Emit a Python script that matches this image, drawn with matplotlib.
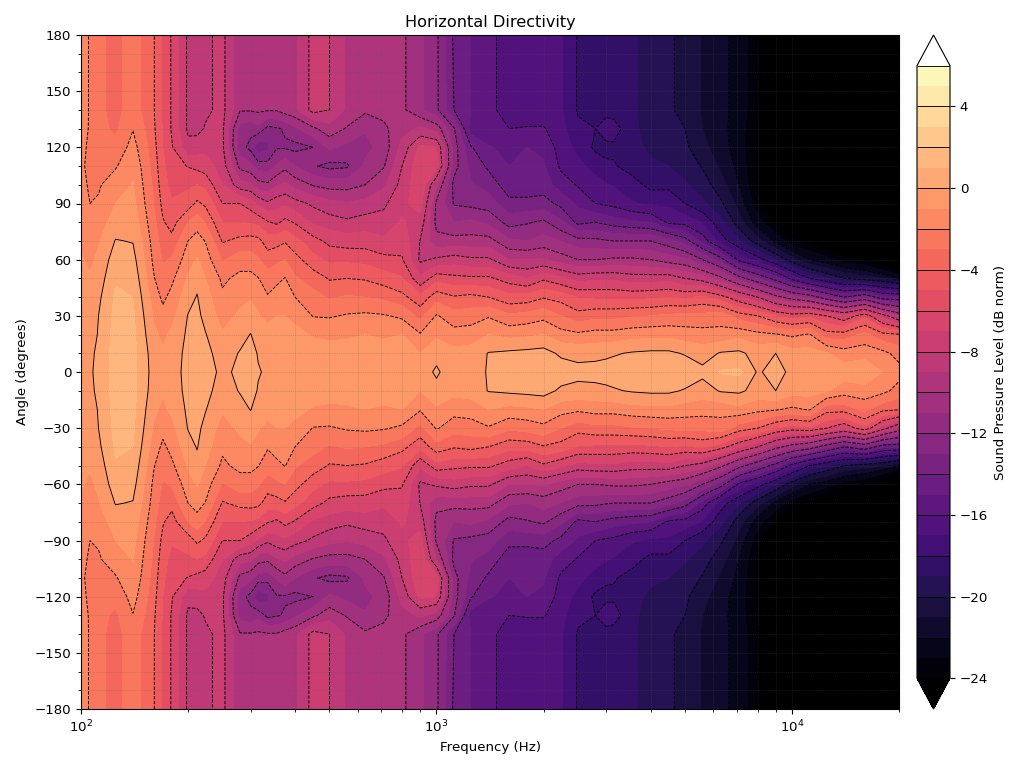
import matplotlib
matplotlib.use("Agg")
import matplotlib.pyplot as plt
from matplotlib.ticker import MultipleLocator
import numpy as np

plt.rcParams["font.size"] = 9.6

# frequencies (Hz) and angles (deg) of the measurement grid, one half only
freqs = [100, 106, 112, 125, 140, 160, 170, 180, 200, 212, 224, 250, 280, 300, 315, 335, 355, 375,
         400, 450, 500, 560, 630, 710, 800, 900, 1000, 1120, 1250, 1400, 1600, 1800, 2000, 2240,
         2500, 2800, 3000, 3150, 3550, 4000, 4500, 5000, 5600, 6300, 7100, 8000, 9000, 10000,
         11200, 12500, 14000, 16000, 18000, 20000]
angles = [0, 10, 20, 30, 40, 50, 60, 70, 80, 90, 100, 110, 120, 130, 140, 180]

# normalised SPL in dB, one row per frequency, one value per angle
spl = [
    [-0.3, -0.3, -0.4, -0.5, -0.6, -0.7, -0.9, -1.1, -1.3, -1.5, -1.8, -1.9, -1.8, -1.6, -1.5, -1.5],
    [-0.1, -0.1, -0.3, -0.4, -0.6, -0.9, -1.2, -1.5, -1.8, -2.0, -2.1, -2.15, -2.15, -2.1, -2.1, -2.1],
    [0.2, 0.1, 0.05, 0.0, -0.2, -0.5, -0.8, -1.1, -1.5, -1.9, -2.1, -2.3, -2.5, -2.7, -2.8, -2.8],
    [1.5, 1.5, 1.4, 1.3, 1.15, 0.9, 0.55, 0.05, -0.5, -1.0, -1.5, -2.1, -2.7, -3.2, -3.3, -3.3],
    [1.3, 1.3, 1.25, 1.15, 1.0, 0.7, 0.35, -0.05, -0.4, -0.7, -0.95, -1.2, -1.6, -2.05, -2.5, -2.5],
    [-0.4, -0.5, -0.8, -1.1, -1.5, -1.9, -2.2, -2.4, -2.7, -3.0, -3.2, -3.4, -3.6, -3.8, -3.9, -3.9],
    [-0.8, -0.9, -1.2, -1.7, -2.2, -2.7, -3.1, -3.5, -3.9, -4.3, -4.6, -4.8, -5.0, -5.1, -5.2, -5.2],
    [-0.5, -0.6, -0.8, -1.3, -1.7, -2.2, -2.9, -3.7, -4.4, -4.9, -5.3, -5.6, -5.9, -6.1, -6.1, -6.1],
    [0.4, 0.35, 0.2, 0.05, -0.4, -0.9, -1.4, -2.0, -3.0, -4.5, -5.2, -6.05, -7.7, -8.2, -8.2, -8.2],
    [0.6, 0.55, 0.4, 0.25, 0.06, -0.3, -0.9, -1.6, -2.4, -3.8, -5.0, -6.3, -7.5, -8.3, -8.4, -8.4],
    [0.35, 0.25, 0.05, -0.3, -0.6, -1.0, -1.5, -2.05, -3.1, -4.2, -5.3, -6.5, -7.3, -7.9, -8.2, -8.2],
    [-0.2, -0.4, -0.9, -1.4, -1.8, -2.2, -3.1, -4.1, -5.0, -6.0, -7.0, -7.5, -7.8, -7.8, -7.7, -7.7],
    [0.2, 0.06, -0.3, -0.8, -1.3, -1.7, -2.5, -3.7, -5.0, -6.0, -8.6, -10.3, -11.6, -11.4, -9.9, -9.9],
    [0.35, 0.25, 0.03, -0.5, -1.1, -1.7, -2.5, -3.6, -5.1, -6.5, -8.8, -10.7, -12.3, -11.7, -9.9, -9.9],
    [0.05, -0.05, -0.4, -0.9, -1.4, -1.95, -2.9, -3.7, -5.3, -7.2, -9.6, -11.4, -13.9, -11.3, -9.8, -9.8],
    [-0.1, -0.2, -0.6, -1.3, -1.9, -2.6, -3.5, -4.5, -5.9, -7.8, -9.8, -11.6, -13.2, -12.3, -9.9, -9.9],
    [-0.1, -0.2, -0.5, -1.0, -1.5, -2.3, -3.2, -4.4, -6.2, -7.4, -9.1, -10.9, -12.1, -12.1, -9.9, -9.9],
    [-0.1, -0.2, -0.5, -1.0, -1.5, -1.95, -3.0, -4.1, -5.7, -7.2, -8.8, -10.3, -12.1, -11.9, -9.5, -9.5],
    [-0.2, -0.3, -0.7, -1.3, -2.0, -2.9, -3.6, -4.7, -6.1, -7.6, -9.4, -11.0, -12.3, -11.2, -9.2, -9.2],
    [-0.3, -0.5, -1.1, -2.05, -2.7, -3.4, -4.7, -5.6, -7.2, -8.2, -10.1, -11.9, -12.0, -10.2, -7.6, -7.6],
    [-0.5, -0.6, -1.2, -2.1, -3.1, -4.1, -5.2, -6.3, -7.5, -8.7, -10.4, -12.3, -10.8, -9.4, -8.0, -8.0],
    [-0.6, -0.7, -1.1, -1.9, -2.9, -4.0, -5.2, -6.5, -7.8, -8.9, -10.4, -12.15, -11.3, -10.1, -9.2, -9.2],
    [-0.7, -0.8, -1.0, -1.8, -3.0, -4.1, -5.3, -6.5, -7.5, -8.7, -10.0, -10.8, -11.3, -10.9, -9.8, -9.8],
    [-0.6, -0.7, -1.1, -1.9, -3.2, -4.5, -5.7, -6.8, -7.6, -8.2, -9.2, -10.1, -10.6, -10.2, -9.7, -9.7],
    [-0.4, -0.6, -1.0, -2.2, -3.7, -4.9, -5.9, -6.4, -6.9, -7.2, -7.6, -8.0, -8.6, -9.4, -9.8, -9.8],
    [-0.3, -1.0, -1.9, -3.3, -4.7, -6.8, -8.2, -8.05, -7.4, -6.6, -6.3, -6.2, -6.8, -8.8, -10.8, -10.8],
    [0.1, -0.2, -1.2, -1.9, -3.4, -5.4, -7.8, -9.7, -10.3, -10.2, -9.0, -6.5, -7.0, -9.4, -11.8, -11.8],
    [-0.4, -0.7, -1.6, -2.6, -3.9, -5.7, -7.5, -9.6, -11.0, -12.1, -12.3, -11.6, -11.5, -11.9, -14.0, -14.2],
    [-0.5, -0.6, -1.5, -2.5, -3.7, -5.8, -7.8, -9.6, -10.8, -12.3, -12.9, -13.3, -13.9, -15.5, -15.0, -15.0],
    [0.1, 0.05, -1.0, -2.1, -4.0, -5.8, -7.8, -9.6, -11.2, -12.5, -13.4, -14.2, -14.9, -15.9, -15.7, -15.7],
    [0.6, 0.2, -1.3, -2.8, -4.7, -6.5, -9.0, -10.8, -12.4, -13.7, -14.6, -15.0, -15.3, -16.0, -16.5, -16.5],
    [0.7, 0.3, -1.2, -2.6, -4.6, -7.0, -9.0, -11.0, -12.1, -13.7, -14.6, -14.9, -15.0, -15.9, -16.8, -16.8],
    [0.7, 0.4, -1.0, -2.3, -4.1, -6.2, -8.9, -10.6, -11.8, -13.6, -14.5, -14.9, -15.2, -15.9, -16.7, -16.7],
    [0.6, -0.2, -1.6, -3.0, -4.4, -6.8, -9.5, -11.0, -12.8, -14.3, -15.5, -16.2, -16.5, -16.7, -16.9, -16.9],
    [0.3, -0.3, -1.8, -3.6, -5.1, -7.4, -10.0, -11.6, -14.3, -15.2, -16.1, -16.7, -17.3, -17.8, -18.1, -18.1],
    [0.4, -0.3, -1.6, -3.3, -5.2, -7.2, -10.0, -11.7, -14.0, -16.0, -16.6, -17.4, -18.2, -18.0, -18.4, -18.4],
    [0.45, -0.2, -1.6, -3.3, -5.2, -7.2, -9.9, -11.9, -14.3, -16.2, -16.9, -17.8, -18.3, -17.4, -18.4, -18.4],
    [0.5, -0.1, -1.6, -3.3, -5.2, -7.2, -9.8, -12.0, -14.5, -16.3, -17.1, -17.9, -18.2, -17.5, -18.5, -18.5],
    [0.9, 0.1, -1.4, -3.1, -5.3, -7.5, -9.8, -12.0, -14.8, -16.9, -17.6, -18.4, -18.7, -18.8, -18.8, -18.8],
    [1.0, 0.2, -1.3, -3.0, -5.2, -7.5, -10.0, -12.0, -15.0, -17.2, -18.3, -18.8, -19.2, -19.4, -19.5, -19.5],
    [1.0, 0.2, -1.3, -2.8, -5.0, -7.4, -10.5, -12.6, -16.2, -17.2, -18.3, -19.0, -19.4, -19.6, -19.8, -19.8],
    [0.8, -0.1, -1.5, -2.7, -5.2, -8.0, -10.8, -13.5, -16.4, -18.0, -18.9, -19.4, -19.8, -20.0, -20.4, -20.4],
    [0.3, -0.5, -1.6, -2.7, -4.8, -8.5, -12.0, -15.4, -17.1, -18.8, -19.5, -20.1, -20.7, -21.0, -21.1, -21.1],
    [1.1, 0.1, -1.7, -2.4, -5.6, -9.7, -13.5, -17.5, -18.7, -19.8, -20.6, -21.2, -21.6, -21.7, -21.7, -21.7],
    [1.2, 0.2, -1.3, -3.5, -6.8, -11.5, -16.3, -18.9, -20.6, -21.4, -22.0, -22.3, -22.5, -22.5, -22.4, -22.4],
    [-0.1, -0.4, -1.7, -4.0, -8.0, -13.0, -17.5, -20.6, -22.5, -23.6, -24.1, -24.2, -24.2, -24.1, -23.8, -23.8],
    [0.3, 0.0, -1.9, -5.0, -9.6, -14.5, -19.0, -22.3, -24.2, -25.5, -26.5, -27.0, -27.0, -27.0, -27.0, -27.0],
    [-0.2, -0.6, -2.2, -5.5, -10.6, -16.4, -20.6, -23.6, -25.5, -28.0, -30.0, -30.0, -30.0, -30.0, -30.0, -30.0],
    [-0.3, -0.6, -1.9, -5.2, -11.3, -18.0, -22.0, -24.2, -27.0, -30.0, -30.0, -30.0, -30.0, -30.0, -30.0, -30.0],
    [-0.3, -0.9, -3.6, -6.0, -12.7, -19.0, -22.6, -25.0, -28.0, -30.0, -30.0, -30.0, -30.0, -30.0, -30.0, -30.0],
    [-0.5, -1.5, -3.6, -6.8, -14.0, -20.0, -23.5, -26.0, -30.0, -30.0, -30.0, -30.0, -30.0, -30.0, -30.0, -30.0],
    [-0.2, -1.4, -2.7, -5.3, -13.0, -20.5, -24.0, -28.0, -30.0, -30.0, -30.0, -30.0, -30.0, -30.0, -30.0, -30.0],
    [-1.0, -1.7, -3.7, -7.5, -14.7, -21.0, -25.5, -30.0, -30.0, -30.0, -30.0, -30.0, -30.0, -30.0, -30.0, -30.0],
    [-1.6, -2.4, -3.9, -9.2, -14.8, -22.0, -27.0, -30.0, -30.0, -30.0, -30.0, -30.0, -30.0, -30.0, -30.0, -30.0],
]

# the plot runs over both sides, the front half is mirrored
half = np.array(spl).T
Z = np.vstack([half[:0:-1], half])
A = np.concatenate([-np.array(angles[:0:-1]), angles])
F = np.array(freqs)

fig = plt.figure(figsize=(10.23, 7.68), dpi=100)
ax = fig.add_axes([81 / 1023, 1 - 709 / 768, 818 / 1023, 674 / 768])
cax = fig.add_axes([917 / 1023, 1 - 709 / 768, 33 / 1023, 674 / 768])

cmap = plt.get_cmap("magma").with_extremes(over="white", under="black")
fills = ax.contourf(F, A, Z, levels=np.arange(-24, 7, 1), cmap=cmap, extend="both")
lines = ax.contour(F, A, Z, levels=np.arange(-24, 7, 2), colors="k", linewidths=0.65)

ax.set_xscale("log")
ax.set_xlim(100, 20000)
ax.set_ylim(-180, 180)
ax.yaxis.set_major_locator(MultipleLocator(30))
ax.yaxis.set_minor_locator(MultipleLocator(10))
ax.grid(True, which="both", linestyle=":", color="0.35", linewidth=0.5, alpha=0.45)
ax.set_title("Horizontal Directivity", fontsize=11.6)
ax.set_xlabel("Frequency (Hz)")
ax.set_ylabel("Angle (degrees)")

cbar = fig.colorbar(fills, cax=cax, ticks=np.arange(-24, 5, 4))
cbar.add_lines(lines)
cbar.set_label("Sound Pressure Level (dB norm)")

fig.savefig("out.png", dpi=100)
